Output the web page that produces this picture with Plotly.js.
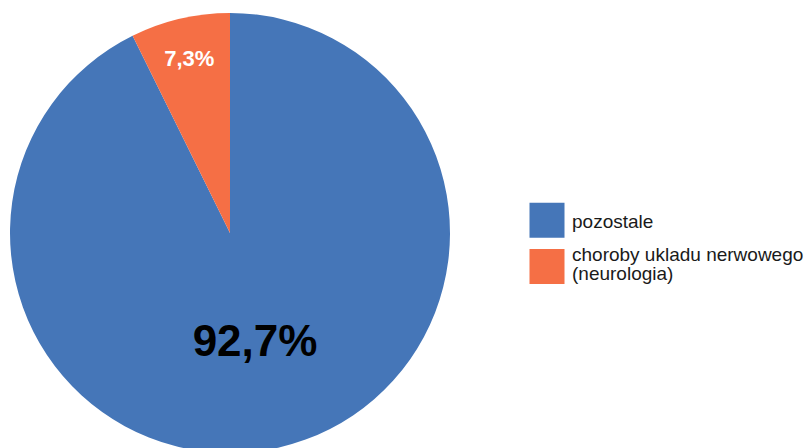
<!DOCTYPE html>
<html>
<head>
<meta charset="utf-8">
<script src="https://cdn.plot.ly/plotly-3.0.1.min.js"></script>
<style>
html,body{margin:0;padding:0;overflow:hidden;background:#fff;width:809px;height:448px;}
#chart{width:809px;height:460px;}
</style>
</head>
<body>
<div id="chart"></div>
<script>
const labels = ['pozostale', 'choroby ukladu nerwowego<br>(neurologia)'];
const values = [92.7, 7.3];
const valueText = ['92,7%', '7,3%'];
const colors = ['#4576b8', '#f56f45'];

const LEGEND_FONT = 19;
const LINE_EM = 1.0;
const ITEM_EXTRA_GAP = 6;
const TEXT_EXTRA_DOWN = 2;

const data = [{
  type: 'pie',
  labels: labels,
  values: values,
  text: valueText,
  textinfo: 'text',
  hoverinfo: 'label+text',
  sort: false,
  direction: 'clockwise',
  rotation: 0,
  marker: {colors: colors, line: {width: 0}},
  textposition: 'inside',
  insidetextorientation: 'horizontal',
  textfont: {family: 'Liberation Sans, Arial, sans-serif', size: [44, 22], color: ['#000000', '#ffffff'], weight: 'bold'},
  domain: {x: [0, 440/799], y: [0, 1]}
}];

const layout = {
  width: 809,
  height: 460,
  margin: {l: 10, r: 0, t: 13, b: 7},
  paper_bgcolor: 'rgba(0,0,0,0)',
  plot_bgcolor: 'rgba(0,0,0,0)',
  showlegend: true,
  legend: {
    x: (522 - 10) / 799, xanchor: 'left',
    y: (453 - 247) / 440, yanchor: 'middle',
    itemwidth: 40,
    bgcolor: 'rgba(0,0,0,0)',
    font: {family: 'Liberation Sans, Arial, sans-serif', size: LEGEND_FONT, color: '#1a1a1a'}
  }
};

Plotly.newPlot('chart', data, layout, {staticPlot: true}).then(function(gd){
  gd.querySelectorAll('path.legendpie').forEach(function(p){
    p.setAttribute('d', 'M17.5,17.5H-17.5V-17.5H17.5Z');
  });
  const items = gd.querySelectorAll('.legend g.traces');
  items.forEach(function(g, i){
    if (i > 0) {
      const t = g.getAttribute('transform') || '';
      const m = t.match(/translate\(\s*([-\d.]+)[ ,]+([-\d.]+)\s*\)/);
      if (m) g.setAttribute('transform', 'translate(' + m[1] + ',' + (parseFloat(m[2]) + ITEM_EXTRA_GAP * i) + ')');
    }
    const txt = g.querySelector('text.legendtext');
    if (!txt) return;
    const lines = txt.querySelectorAll('tspan.line');
    if (lines.length > 1) {
      lines.forEach(function(ts, k){ if (k > 0) ts.setAttribute('dy', LINE_EM + 'em'); });
      const y = parseFloat(txt.getAttribute('y') || '0');
      const shift = (lines.length - 1) * (1.3 - LINE_EM) * LEGEND_FONT / 2 + TEXT_EXTRA_DOWN;
      txt.setAttribute('y', y + shift);
    }
  });
});
</script>
</body>
</html>
